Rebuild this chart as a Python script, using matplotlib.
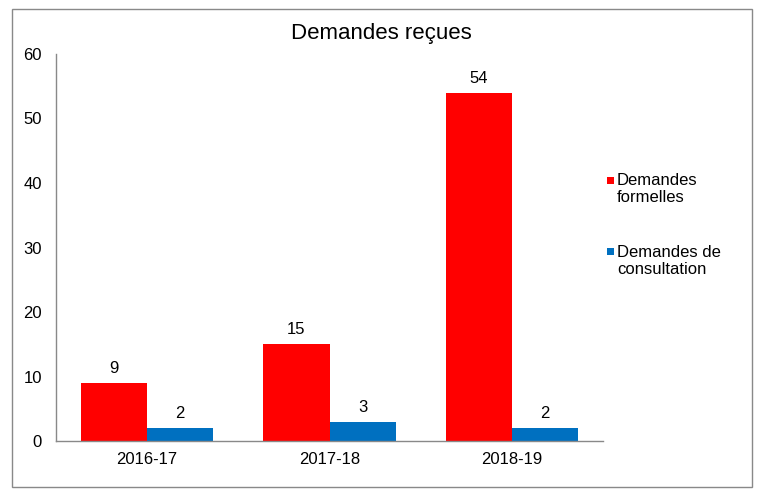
import matplotlib
matplotlib.use("Agg")
import matplotlib.pyplot as plt
from matplotlib.patches import Rectangle
import numpy as np

plt.rcParams['font.family'] = ['Liberation Sans', 'DejaVu Sans']

categories = ["2016-17", "2017-18", "2018-19"]
formelles = [9, 15, 54]
consultation = [2, 3, 2]
series_labels = ["Demandes\nformelles", "Demandes de\nconsultation"]
title = "Demandes reçues"

red = "#FF0000"
blue = "#0070C0"
gray = "#898989"
colors = [red, blue]

W, H = 761, 494
fig = plt.figure(figsize=(W/100, H/100), dpi=100)
ax = fig.add_axes([56/W, 1-441/H, (603-56)/W, (441-54)/H])

x = np.arange(len(categories))
bw = 0.363
b1 = ax.bar(x - bw/2, formelles, bw, color=red, label=series_labels[0])
b2 = ax.bar(x + bw/2, consultation, bw, color=blue, label=series_labels[1])

for bars, vals in ((b1, formelles), (b2, consultation)):
    for b, v in zip(bars, vals):
        ax.annotate(str(v), (b.get_x() + b.get_width()/2, b.get_height()),
                    xytext=(0, 5), textcoords="offset points",
                    ha="center", va="bottom", fontsize=12, color="black")

ax.set_xlim(-0.5, 2.5)
ax.set_ylim(0, 60)
ax.set_yticks(range(0, 61, 10))
ax.set_xticks(x)
ax.set_xticklabels(categories)
ax.tick_params(axis='both', length=0, labelsize=12, colors="black")
ax.tick_params(axis='y', pad=10)
ax.tick_params(axis='x', pad=8)
for s in ("top", "right"):
    ax.spines[s].set_visible(False)
for s in ("left", "bottom"):
    ax.spines[s].set_color(gray)
    ax.spines[s].set_linewidth(1)

fig.text(381/W, 1-34/H, title, ha="center", va="center", fontsize=16)

# hand-drawn legend
for i, (lab, c) in enumerate(zip(series_labels, colors)):
    ycen = 180 + i * 72
    fig.patches.append(Rectangle((607/W, 1-(ycen+3.5)/H), 7/W, 7/H,
                                 transform=fig.transFigure, color=c, lw=0))
    fig.text(617/W, 1-(ycen-7)/H, lab, ha="left", va="top",
             fontsize=12, linespacing=1.2)

fig.patches.append(Rectangle((12/W, 1-487/H), (752-12)/W, (487-9)/H,
                             transform=fig.transFigure, fill=False,
                             edgecolor=gray, linewidth=1))

fig.savefig("out.png", dpi=100)
